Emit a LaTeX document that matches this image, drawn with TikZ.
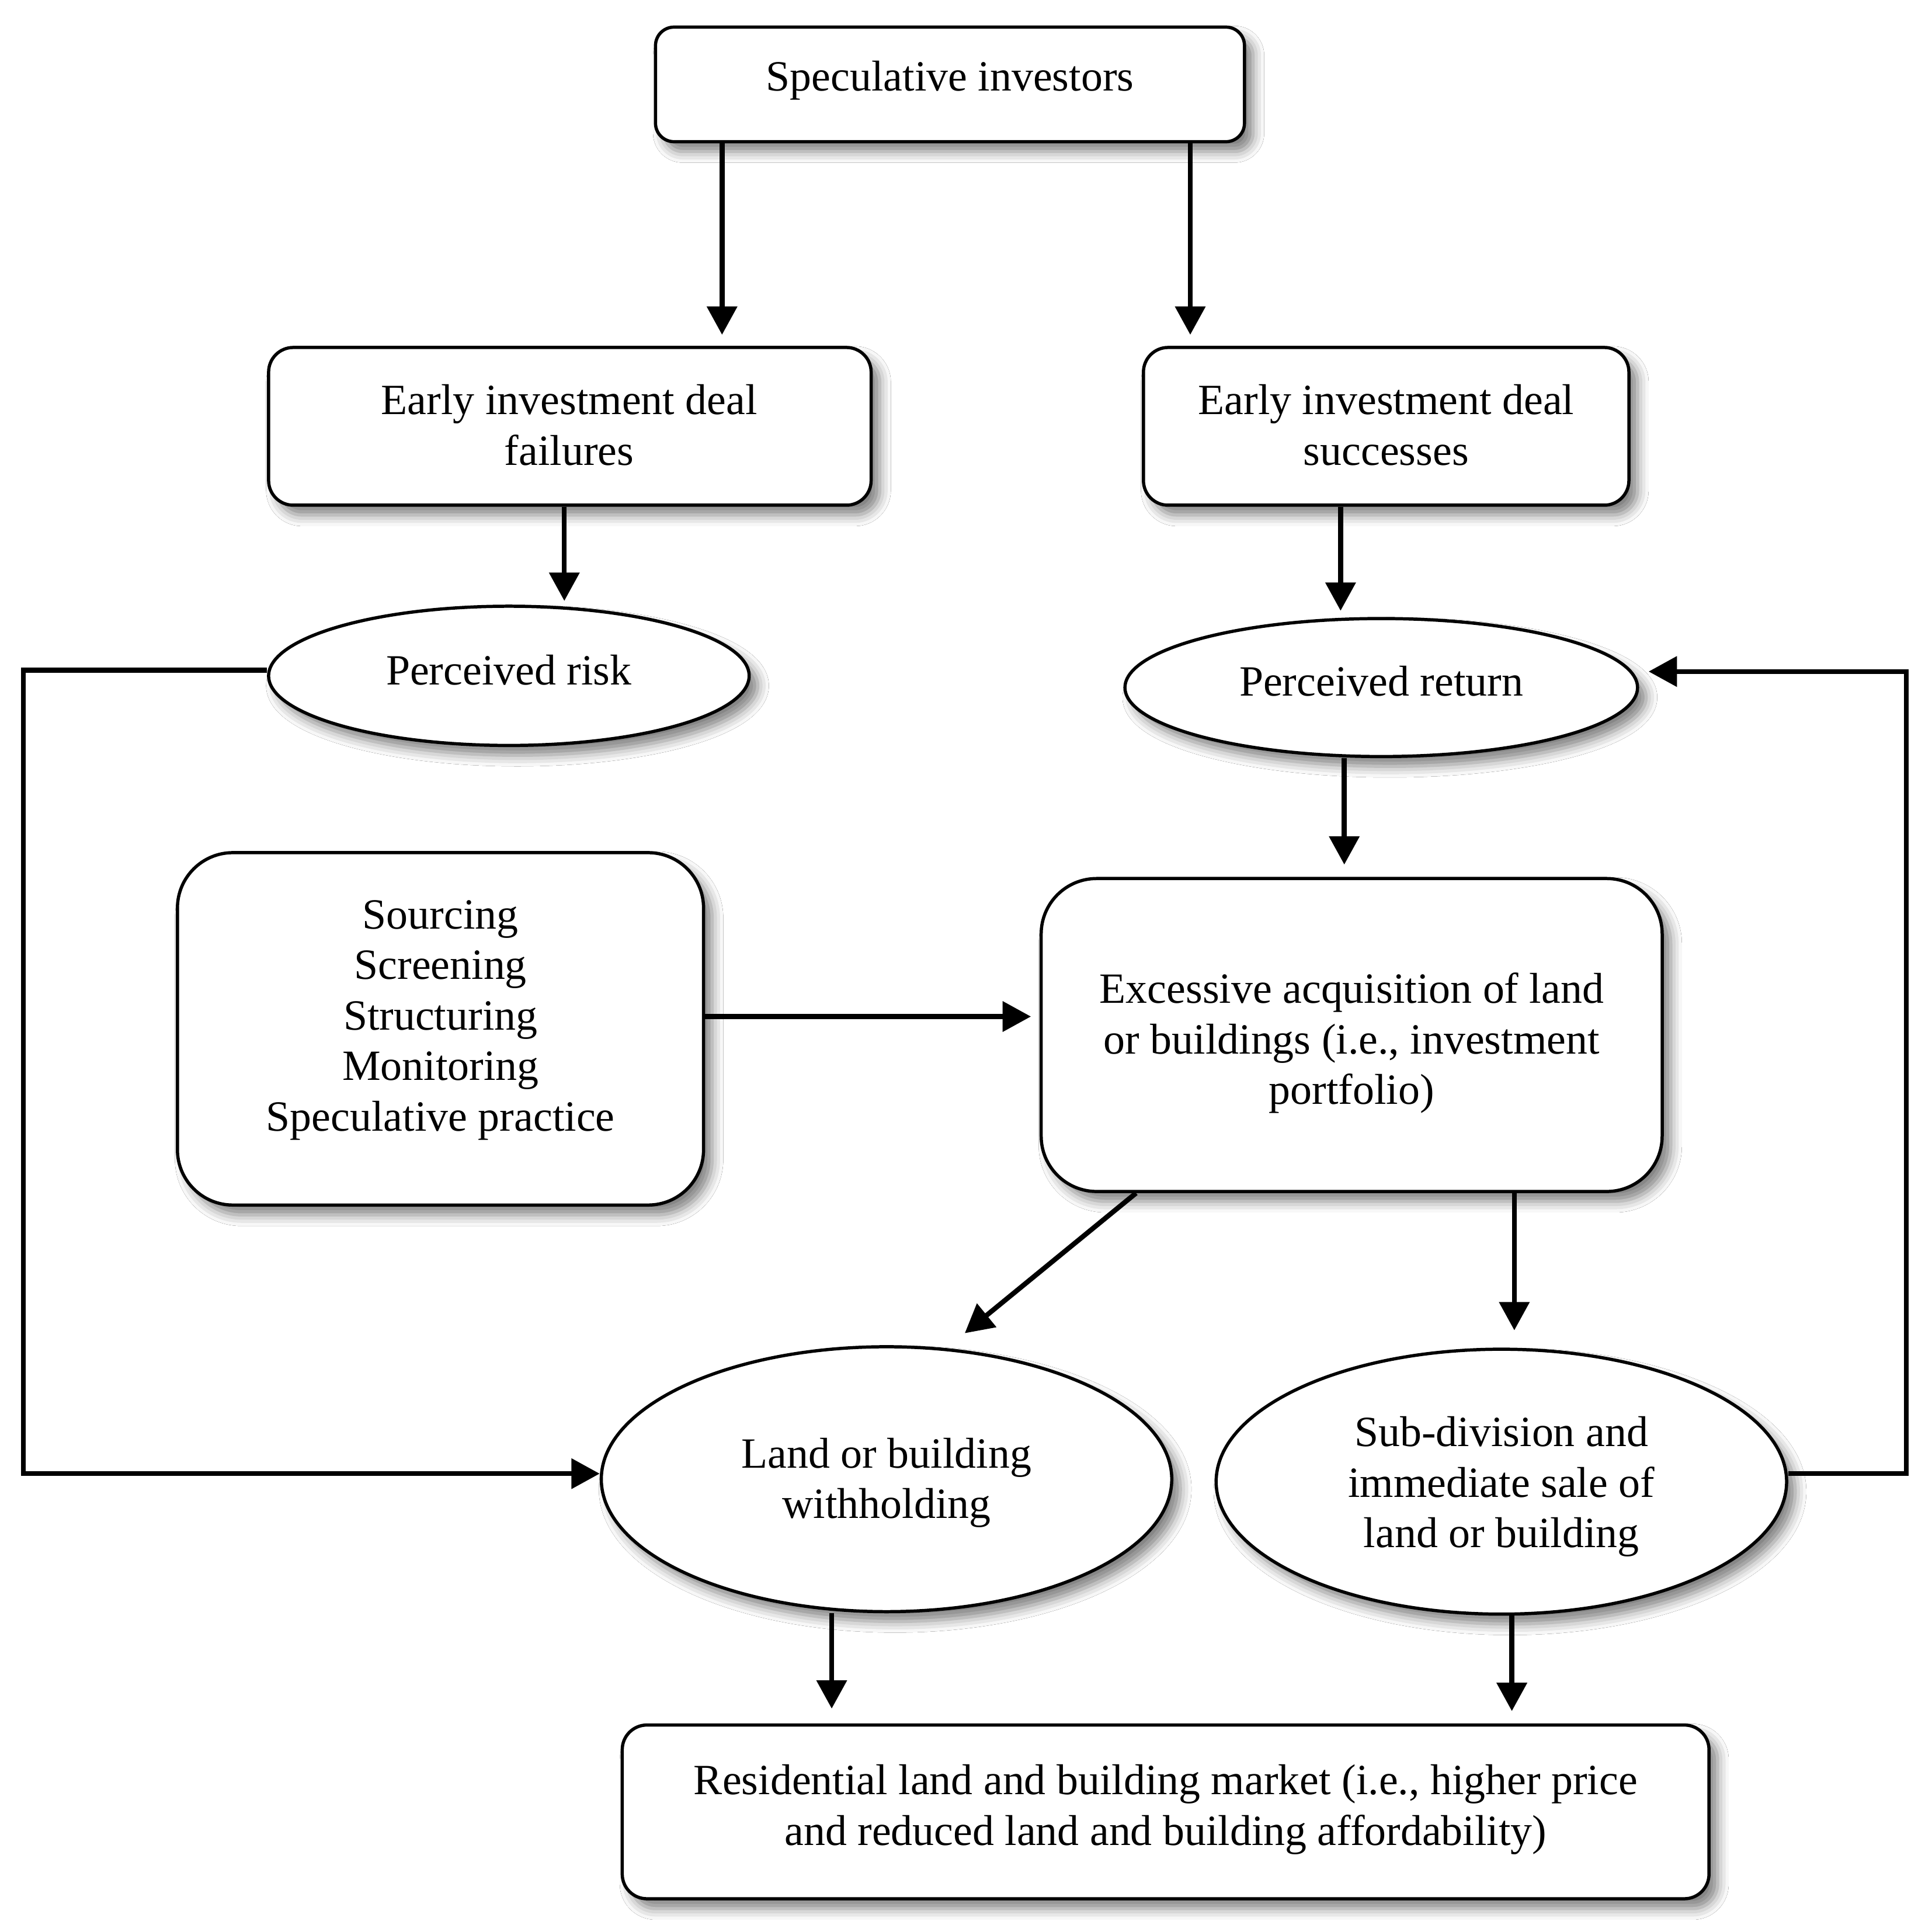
\documentclass[tikz,border=0pt]{standalone}
\usepackage{fontspec}
\setmainfont{Liberation Serif}
\usetikzlibrary{arrows.meta,shapes.geometric,shadows.blur}
\begin{document}
\begin{tikzpicture}[x=1pt,y=-1pt,
  base/.style={draw, line width=2.6pt, fill=white, inner sep=0pt,
    blur shadow={shadow xshift=7pt, shadow yshift=-8pt, shadow blur radius=9pt, shadow opacity=50}},
  rbox/.style={base, rectangle, rounded corners=#1},
  oval/.style={base, ellipse},
  txt/.style={align=center, inner sep=0pt, font=\fontsize{35}{41}\selectfont},
  arr/.style={line width=4pt, -{Triangle[length=23pt,width=24pt]}}]
\useasboundingbox (0,0) rectangle (1568,1568);
\fill[white] (0,0) rectangle (1568,1568);

\node[rbox=15pt, minimum width=478pt, minimum height=93pt] (spec) at (771,68.5) {};
\node[rbox=20pt, minimum width=489pt, minimum height=128pt] (fail) at (462.5,346) {};
\node[rbox=20pt, minimum width=394pt, minimum height=128pt] (succ) at (1125,346) {};
\node[oval, minimum width=390pt, minimum height=113pt] (risk) at (413,548.5) {};
\node[oval, minimum width=416pt, minimum height=112pt] (ret) at (1121,558) {};
\node[rbox=45pt, minimum width=427pt, minimum height=286pt] (src) at (357.5,835) {};
\node[rbox=45pt, minimum width=504pt, minimum height=254pt] (exc) at (1097,840) {};
\node[oval, minimum width=463pt, minimum height=215pt] (with) at (719.5,1200.5) {};
\node[oval, minimum width=463pt, minimum height=215pt] (sub) at (1218.5,1202.5) {};
\node[rbox=20pt, minimum width=882pt, minimum height=141pt] (res) at (946,1470.5) {};

\node[txt] (spect) at (771,65.5) {Speculative investors};
\node[txt] (failt) at (462,345) {Early investment deal\\failures};
\node[txt] (succt) at (1125,345) {Early investment deal\\successes};
\node[txt] (riskt) at (413,544) {Perceived risk};
\node[txt] (rett) at (1121,553) {Perceived return};
\node[txt] (srct) at (357.5,828) {Sourcing\\Screening\\Structuring\\Monitoring\\Speculative practice};
\node[txt] (exct) at (1097,846.5) {Excessive acquisition of land\\or buildings (i.e., investment\\portfolio)};
\node[txt] (witht) at (719.5,1203.5) {Land or building\\withholding};
\node[txt] (subt) at (1218.5,1206.5) {Sub-division and\\immediate sale of\\land or building};
\node[txt] (rest) at (946,1468.5) {Residential land and building market (i.e., higher price\\and reduced land and building affordability)};

\coordinate (xa) at (586,0);
\coordinate (xb) at (966,0);
\coordinate (xc) at (458,0);
\coordinate (xd) at (1088,0);
\coordinate (xe) at (1091,0);
\coordinate (xf) at (922,0);
\coordinate (xg) at (1229,0);
\coordinate (xh) at (675,0);
\coordinate (xi) at (1227,0);
\coordinate (ysrc) at (0,825);
\coordinate (dtip) at (783,1082);
\coordinate (lt) at (19,544);
\coordinate (lb) at (19,1196);
\coordinate (rt) at (1547,545);
\coordinate (rb) at (1547,1196);
\coordinate (rtip) at (1338,545);

\draw[arr, shorten >=9pt] (spec.south -| xa) -- (fail.north -| xa);
\draw[arr, shorten >=9pt] (spec.south -| xb) -- (succ.north -| xb);
\draw[arr, shorten >=3pt] (fail.south -| xc) -- (risk.north -| xc);
\draw[arr, shorten >=5pt] (succ.south -| xd) -- (ret.north -| xd);
\draw[arr, shorten >=10pt] (ret.south -| xe) -- (exc.north -| xe);
\draw[arr, shorten >=7pt] (src.east |- ysrc) -- (exc.west |- ysrc);
\draw[arr] (exc.south -| xf) -- (dtip);
\draw[arr, shorten >=14pt] (exc.south -| xg) -- (sub.north -| xg);
\draw[arr, shorten >=12pt] (with.south -| xh) -- (res.north -| xh);
\draw[arr, shorten >=10pt] (sub.south -| xi) -- (res.north -| xi);
\draw[arr] (risk.west |- lt) -- (lt) -- (lb) -- (with.west |- lb);
\draw[arr] (sub.east |- rb) -- (rb) -- (rt) -- (rtip);
\end{tikzpicture}
\end{document}
